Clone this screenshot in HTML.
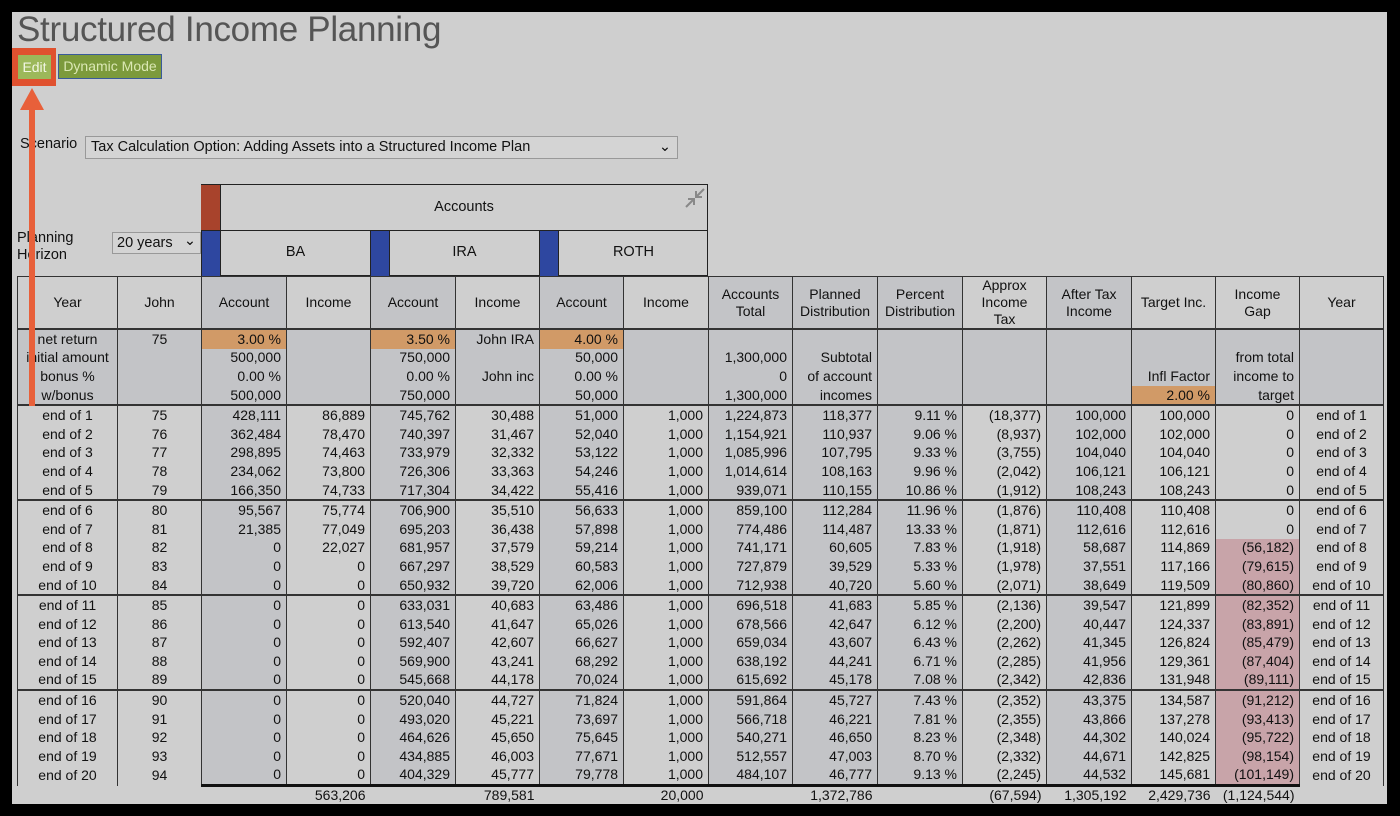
<!DOCTYPE html>
<html><head><meta charset="utf-8">
<style>
body{margin:0;width:1400px;height:816px;background:#000;position:relative;overflow:hidden;font-family:"Liberation Sans Narrow","Liberation Sans",sans-serif;color:#111}
#page{position:absolute;left:12px;top:12px;width:1375px;height:792px;background:#cfcfcf}
.abs{position:absolute}
h1{position:absolute;left:17px;top:10px;margin:0;font-family:"Liberation Sans",sans-serif;font-weight:normal;font-size:35px;color:#555;letter-spacing:-0.3px}
table{position:absolute;left:17px;top:276px;border-collapse:collapse;table-layout:fixed;font-size:14px}
td{border-left:1px solid #333;border-right:1px solid #333;padding:0 5px;height:18.6px;line-height:17px;text-align:right;white-space:nowrap;overflow:hidden}
td.c{text-align:center}
thead td{height:47px;line-height:17px;text-align:center;border:1px solid #333;padding:0 2px}
tbody{border-top:2px solid #333}
tbody.inp td{background:#c3c4c7}
col.d{background:#c3c4c7}
td.o{background:#d19a67!important}
td.p{background:#c8a4a9}
.tot td{border:none;height:16px}
</style></head><body>
<div id="page"></div>
<h1>Structured Income Planning</h1>
<div class="abs" style="left:12px;top:48px;width:38px;height:32px;border:3px solid #e0512f;background:#e0512f"></div>
<div class="abs" style="left:18px;top:55px;width:33px;height:24px;background:#9cb85a;color:#f2f6e4;font-size:14px;line-height:24px;text-align:center">Edit</div>
<div class="abs" style="left:58px;top:54px;width:104px;height:25px;background:#7c9a3c;border:1px solid #3a5a9a;box-sizing:border-box;color:#dbe8b4;font-size:14px;line-height:23px;text-align:center">Dynamic Mode</div>
<div class="abs" style="left:20px;top:136px;font-size:14.5px">Scenario</div>
<div class="abs" style="left:85px;top:136px;width:593px;height:23px;border:1px solid #999;box-sizing:border-box;background:#d4d4d4;font-size:14.5px;line-height:21px;padding-left:5px">Tax Calculation Option: Adding Assets into a Structured Income Plan<span style="position:absolute;right:6px;top:0">&#8964;</span></div>
<div class="abs" style="left:17px;top:230px;font-size:14.5px;line-height:17px">Planning<br>Horizon</div>
<div class="abs" style="left:112px;top:232px;width:89px;height:22px;border:1px solid #999;box-sizing:border-box;background:#d4d4d4;font-size:14.5px;line-height:20px;padding-left:4px">20 years<span style="position:absolute;right:4px;top:-2px">&#8964;</span></div>
<div class="abs" style="left:201px;top:184px;width:507px;height:92px;border:1px solid #222;box-sizing:border-box"></div>
<div class="abs" style="left:201px;top:230px;width:507px;height:1px;background:#222"></div>
<div class="abs" style="left:201px;top:185px;width:19px;height:45px;background:#a8432c"></div>
<div class="abs" style="left:220px;top:185px;width:1px;height:91px;background:#222"></div>
<div class="abs" style="left:370px;top:230px;width:1px;height:46px;background:#222"></div>
<div class="abs" style="left:539px;top:230px;width:1px;height:46px;background:#222"></div>
<div class="abs" style="left:389px;top:230px;width:1px;height:46px;background:#222"></div>
<div class="abs" style="left:558px;top:230px;width:1px;height:46px;background:#222"></div>
<div class="abs" style="left:202px;top:231px;width:18px;height:45px;background:#2e47a0"></div>
<div class="abs" style="left:371px;top:231px;width:18px;height:45px;background:#2e47a0"></div>
<div class="abs" style="left:540px;top:231px;width:18px;height:45px;background:#2e47a0"></div>
<div class="abs" style="left:221px;top:199px;width:486px;text-align:center;font-size:14.5px">Accounts</div>
<div class="abs" style="left:221px;top:244px;width:149px;text-align:center;font-size:14.5px">BA</div>
<div class="abs" style="left:390px;top:244px;width:149px;text-align:center;font-size:14.5px">IRA</div>
<div class="abs" style="left:559px;top:244px;width:149px;text-align:center;font-size:14.5px">ROTH</div>
<svg class="abs" style="left:684px;top:187px" width="22" height="22"><g stroke="#888" stroke-width="2" fill="none"><line x1="20" y1="2" x2="13" y2="9"/><polyline points="12,4 12,10 18,10"/><line x1="2" y1="20" x2="9" y2="13"/><polyline points="4,12 10,12 10,18"/></g></svg>
<table>
<colgroup><col style="width:100px"><col style="width:84px"><col class="d" style="width:85px"><col style="width:84px"><col class="d" style="width:85px"><col style="width:84px"><col class="d" style="width:84px"><col style="width:85px"><col class="d" style="width:84px"><col class="d" style="width:85px"><col class="d" style="width:85px"><col style="width:84px"><col class="d" style="width:85px"><col style="width:84px"><col style="width:84px"><col style="width:84px"></colgroup>
<thead><tr><td>Year</td><td>John</td><td>Account</td><td>Income</td><td>Account</td><td>Income</td><td>Account</td><td>Income</td><td>Accounts<br>Total</td><td>Planned<br>Distribution</td><td>Percent<br>Distribution</td><td>Approx<br>Income<br>Tax</td><td>After Tax<br>Income</td><td>Target Inc.</td><td>Income<br>Gap</td><td>Year</td></tr></thead>
<tbody class="inp">
<tr><td class="c">net return</td><td class="c">75</td><td class="o">3.00 %</td><td></td><td class="o">3.50 %</td><td>John IRA</td><td class="o">4.00 %</td><td></td><td></td><td></td><td></td><td></td><td></td><td></td><td></td><td></td></tr>
<tr><td class="c">initial amount</td><td></td><td>500,000</td><td></td><td>750,000</td><td></td><td>50,000</td><td></td><td>1,300,000</td><td>Subtotal</td><td></td><td></td><td></td><td></td><td>from total</td><td></td></tr>
<tr><td class="c">bonus %</td><td></td><td>0.00 %</td><td></td><td>0.00 %</td><td>John inc</td><td>0.00 %</td><td></td><td>0</td><td>of account</td><td></td><td></td><td></td><td>Infl Factor</td><td>income to</td><td></td></tr>
<tr><td class="c">w/bonus</td><td></td><td>500,000</td><td></td><td>750,000</td><td></td><td>50,000</td><td></td><td>1,300,000</td><td>incomes</td><td></td><td></td><td></td><td class="o">2.00 %</td><td>target</td><td></td></tr>
</tbody>
<tbody>
<tr><td class="c">end of 1</td><td class="c">75</td><td>428,111</td><td>86,889</td><td>745,762</td><td>30,488</td><td>51,000</td><td>1,000</td><td>1,224,873</td><td>118,377</td><td>9.11 %</td><td>(18,377)</td><td>100,000</td><td>100,000</td><td>0</td><td class="c">end of 1</td></tr>
<tr><td class="c">end of 2</td><td class="c">76</td><td>362,484</td><td>78,470</td><td>740,397</td><td>31,467</td><td>52,040</td><td>1,000</td><td>1,154,921</td><td>110,937</td><td>9.06 %</td><td>(8,937)</td><td>102,000</td><td>102,000</td><td>0</td><td class="c">end of 2</td></tr>
<tr><td class="c">end of 3</td><td class="c">77</td><td>298,895</td><td>74,463</td><td>733,979</td><td>32,332</td><td>53,122</td><td>1,000</td><td>1,085,996</td><td>107,795</td><td>9.33 %</td><td>(3,755)</td><td>104,040</td><td>104,040</td><td>0</td><td class="c">end of 3</td></tr>
<tr><td class="c">end of 4</td><td class="c">78</td><td>234,062</td><td>73,800</td><td>726,306</td><td>33,363</td><td>54,246</td><td>1,000</td><td>1,014,614</td><td>108,163</td><td>9.96 %</td><td>(2,042)</td><td>106,121</td><td>106,121</td><td>0</td><td class="c">end of 4</td></tr>
<tr><td class="c">end of 5</td><td class="c">79</td><td>166,350</td><td>74,733</td><td>717,304</td><td>34,422</td><td>55,416</td><td>1,000</td><td>939,071</td><td>110,155</td><td>10.86 %</td><td>(1,912)</td><td>108,243</td><td>108,243</td><td>0</td><td class="c">end of 5</td></tr>
</tbody>
<tbody>
<tr><td class="c">end of 6</td><td class="c">80</td><td>95,567</td><td>75,774</td><td>706,900</td><td>35,510</td><td>56,633</td><td>1,000</td><td>859,100</td><td>112,284</td><td>11.96 %</td><td>(1,876)</td><td>110,408</td><td>110,408</td><td>0</td><td class="c">end of 6</td></tr>
<tr><td class="c">end of 7</td><td class="c">81</td><td>21,385</td><td>77,049</td><td>695,203</td><td>36,438</td><td>57,898</td><td>1,000</td><td>774,486</td><td>114,487</td><td>13.33 %</td><td>(1,871)</td><td>112,616</td><td>112,616</td><td>0</td><td class="c">end of 7</td></tr>
<tr><td class="c">end of 8</td><td class="c">82</td><td>0</td><td>22,027</td><td>681,957</td><td>37,579</td><td>59,214</td><td>1,000</td><td>741,171</td><td>60,605</td><td>7.83 %</td><td>(1,918)</td><td>58,687</td><td>114,869</td><td class="p">(56,182)</td><td class="c">end of 8</td></tr>
<tr><td class="c">end of 9</td><td class="c">83</td><td>0</td><td>0</td><td>667,297</td><td>38,529</td><td>60,583</td><td>1,000</td><td>727,879</td><td>39,529</td><td>5.33 %</td><td>(1,978)</td><td>37,551</td><td>117,166</td><td class="p">(79,615)</td><td class="c">end of 9</td></tr>
<tr><td class="c">end of 10</td><td class="c">84</td><td>0</td><td>0</td><td>650,932</td><td>39,720</td><td>62,006</td><td>1,000</td><td>712,938</td><td>40,720</td><td>5.60 %</td><td>(2,071)</td><td>38,649</td><td>119,509</td><td class="p">(80,860)</td><td class="c">end of 10</td></tr>
</tbody>
<tbody>
<tr><td class="c">end of 11</td><td class="c">85</td><td>0</td><td>0</td><td>633,031</td><td>40,683</td><td>63,486</td><td>1,000</td><td>696,518</td><td>41,683</td><td>5.85 %</td><td>(2,136)</td><td>39,547</td><td>121,899</td><td class="p">(82,352)</td><td class="c">end of 11</td></tr>
<tr><td class="c">end of 12</td><td class="c">86</td><td>0</td><td>0</td><td>613,540</td><td>41,647</td><td>65,026</td><td>1,000</td><td>678,566</td><td>42,647</td><td>6.12 %</td><td>(2,200)</td><td>40,447</td><td>124,337</td><td class="p">(83,891)</td><td class="c">end of 12</td></tr>
<tr><td class="c">end of 13</td><td class="c">87</td><td>0</td><td>0</td><td>592,407</td><td>42,607</td><td>66,627</td><td>1,000</td><td>659,034</td><td>43,607</td><td>6.43 %</td><td>(2,262)</td><td>41,345</td><td>126,824</td><td class="p">(85,479)</td><td class="c">end of 13</td></tr>
<tr><td class="c">end of 14</td><td class="c">88</td><td>0</td><td>0</td><td>569,900</td><td>43,241</td><td>68,292</td><td>1,000</td><td>638,192</td><td>44,241</td><td>6.71 %</td><td>(2,285)</td><td>41,956</td><td>129,361</td><td class="p">(87,404)</td><td class="c">end of 14</td></tr>
<tr><td class="c">end of 15</td><td class="c">89</td><td>0</td><td>0</td><td>545,668</td><td>44,178</td><td>70,024</td><td>1,000</td><td>615,692</td><td>45,178</td><td>7.08 %</td><td>(2,342)</td><td>42,836</td><td>131,948</td><td class="p">(89,111)</td><td class="c">end of 15</td></tr>
</tbody>
<tbody>
<tr><td class="c">end of 16</td><td class="c">90</td><td>0</td><td>0</td><td>520,040</td><td>44,727</td><td>71,824</td><td>1,000</td><td>591,864</td><td>45,727</td><td>7.43 %</td><td>(2,352)</td><td>43,375</td><td>134,587</td><td class="p">(91,212)</td><td class="c">end of 16</td></tr>
<tr><td class="c">end of 17</td><td class="c">91</td><td>0</td><td>0</td><td>493,020</td><td>45,221</td><td>73,697</td><td>1,000</td><td>566,718</td><td>46,221</td><td>7.81 %</td><td>(2,355)</td><td>43,866</td><td>137,278</td><td class="p">(93,413)</td><td class="c">end of 17</td></tr>
<tr><td class="c">end of 18</td><td class="c">92</td><td>0</td><td>0</td><td>464,626</td><td>45,650</td><td>75,645</td><td>1,000</td><td>540,271</td><td>46,650</td><td>8.23 %</td><td>(2,348)</td><td>44,302</td><td>140,024</td><td class="p">(95,722)</td><td class="c">end of 18</td></tr>
<tr><td class="c">end of 19</td><td class="c">93</td><td>0</td><td>0</td><td>434,885</td><td>46,003</td><td>77,671</td><td>1,000</td><td>512,557</td><td>47,003</td><td>8.70 %</td><td>(2,332)</td><td>44,671</td><td>142,825</td><td class="p">(98,154)</td><td class="c">end of 19</td></tr>
<tr><td class="c">end of 20</td><td class="c">94</td><td>0</td><td>0</td><td>404,329</td><td>45,777</td><td>79,778</td><td>1,000</td><td>484,107</td><td>46,777</td><td>9.13 %</td><td>(2,245)</td><td>44,532</td><td>145,681</td><td class="p">(101,149)</td><td class="c">end of 20</td></tr>
</tbody>
<tbody class="tot" style="border-top:none">
<tr><td style="background:#cfcfcf"></td><td style="background:#cfcfcf"></td><td style="background:#cfcfcf;border-top:3px solid #111"></td><td style="background:#cfcfcf;border-top:3px solid #111">563,206</td><td style="background:#cfcfcf;border-top:3px solid #111"></td><td style="background:#cfcfcf;border-top:3px solid #111">789,581</td><td style="background:#cfcfcf;border-top:3px solid #111"></td><td style="background:#cfcfcf;border-top:3px solid #111">20,000</td><td style="background:#cfcfcf;border-top:3px solid #111"></td><td style="background:#cfcfcf;border-top:3px solid #111">1,372,786</td><td style="background:#cfcfcf;border-top:3px solid #111"></td><td style="background:#cfcfcf;border-top:3px solid #111">(67,594)</td><td style="background:#cfcfcf;border-top:3px solid #111">1,305,192</td><td style="background:#cfcfcf;border-top:3px solid #111">2,429,736</td><td style="background:#cfcfcf;border-top:3px solid #111">(1,124,544)</td><td style="background:#cfcfcf"></td></tr>
</tbody>
</table>
<svg class="abs" style="left:18px;top:86px;z-index:5" width="30" height="330"><polygon points="14,2 26,24 17,24 17,320 11,320 11,24 2,24" fill="#e8603a"/></svg>
</body></html>
